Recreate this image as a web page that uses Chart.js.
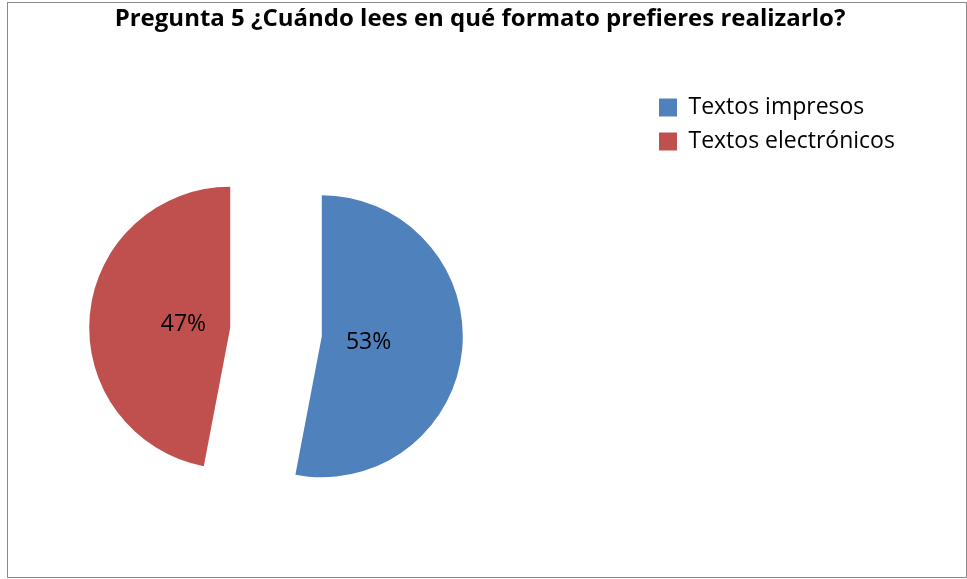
<!DOCTYPE html>
<html lang="es">
<head>
<meta charset="utf-8">
<title>Pregunta 5</title>
<script src="https://cdn.jsdelivr.net/npm/chart.js@4.4.1/dist/chart.umd.min.js"></script>
<style>
  html, body { margin:0; padding:0; background:#fff; overflow:hidden; width:967px; height:579px; }
  /* canvas starts left of the page: the pie sits off-centre in the
     plot area, and chartArea padding can't go negative */
  #chart { position:absolute; left:-96px; top:0; }
  .frame { position:absolute; left:7px; top:2px; width:958px; height:574px; border:1px solid #8a8a8a; pointer-events:none; }
</style>
</head>
<body>
<canvas id="chart" width="1152" height="579"></canvas>
<div class="frame"></div>
<script>
// Data
const titleText = 'Pregunta 5 ¿Cuándo lees en qué formato prefieres realizarlo?';
const categories = ['Textos impresos', 'Textos electrónicos'];
const shares = [53, 47];
const sliceColors = ['#4F81BD', '#C0504D'];

const FONT = '"Open Sans", Lato, sans-serif';
const LEGEND_SIZE = 23;
const LEGEND_PAD = 11;
const BOX_W = 18;
const EXPLODE = 46;   // px each slice is pulled out
const RADIUS = 141;

// legend column + empty box on its right fill 408px so the title stays
// centred on the frame while the pie sits left of the legend
const m = document.createElement('canvas').getContext('2d');
m.font = LEGEND_SIZE + 'px ' + FONT;
const textW = Math.max(...categories.map(c => m.measureText(c).width));
const legendW = LEGEND_PAD + BOX_W + LEGEND_SIZE / 2 + textW + 10;
const spacerW = Math.max(0, 408 - legendW - 1.2);

// exploded pie: Chart.js' own arc offset also grows and trims the arcs,
// so shift each arc along its bisector here and draw the % label on it
const explodedPie = {
  id: 'explodedPie',
  beforeDatasetsDraw(chart) {
    const ctx = chart.ctx;
    const meta = chart.getDatasetMeta(0);
    const total = shares.reduce((a, b) => a + b, 0);
    meta.data.forEach((arc, i) => {
      const mid = (arc.startAngle + arc.endAngle) / 2;
      const dx = Math.cos(mid), dy = Math.sin(mid);
      ctx.save();
      ctx.translate(dx * EXPLODE, dy * EXPLODE);
      arc.draw(ctx, chart.chartArea);
      ctx.font = '23px ' + FONT;
      ctx.fillStyle = '#000';
      ctx.textAlign = 'center';
      ctx.textBaseline = 'middle';
      const d = arc.outerRadius / 3;
      ctx.fillText(Math.round(shares[i] / total * 100) + '%', arc.x + dx * d, arc.y + dy * d + 1.5);
      ctx.restore();
    });
    return false;
  }
};

new Chart(document.getElementById('chart'), {
  type: 'pie',
  data: {
    labels: categories,
    datasets: [{
      data: shares,
      backgroundColor: sliceColors,
      borderWidth: 0,
      hoverOffset: 0
    }]
  },
  options: {
    responsive: false,
    animation: false,
    events: [],
    radius: RADIUS,
    layout: { padding: 0 },
    plugins: {
      title: {
        display: true,
        text: titleText,
        color: '#000',
        font: { family: FONT, size: 24, weight: 'bold' },
        padding: { top: 4.6, bottom: 51.6 }
      },
      subtitle: {
        display: true,
        fullSize: false,
        position: 'right',
        text: '',
        font: { size: 1 },
        padding: { top: spacerW, bottom: 0 }
      },
      legend: {
        position: 'right',
        align: 'start',
        fullSize: false,
        labels: {
          color: '#000',
          font: { family: FONT, size: LEGEND_SIZE },
          boxWidth: BOX_W,
          boxHeight: 18,
          padding: LEGEND_PAD,
          generateLabels: () => categories.map((text, i) => ({
            text, fillStyle: sliceColors[i], strokeStyle: sliceColors[i],
            lineWidth: 0, hidden: false, index: i, fontColor: '#000'
          }))
        }
      },
      tooltip: { enabled: false }
    }
  },
  plugins: [explodedPie]
});
</script>
</body>
</html>
